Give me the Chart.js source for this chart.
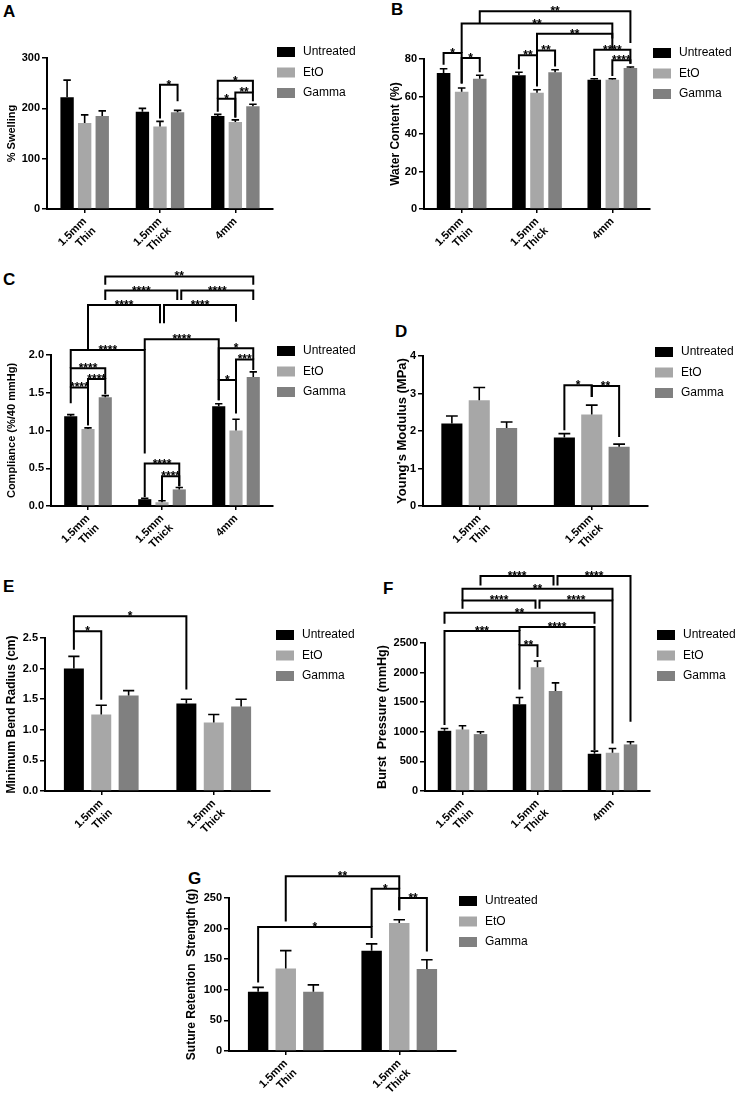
<!DOCTYPE html>
<html>
<head>
<meta charset="utf-8">
<script src="https://cdn.jsdelivr.net/npm/chart.js@4.4.0/dist/chart.umd.min.js"></script>
<style>
  body { margin: 0; background: #fff; width: 740px; height: 1099px; position: relative; overflow: hidden; }
  canvas { position: absolute; }
  .tag { position: absolute; font: bold 17px "Liberation Sans", Arial, sans-serif; line-height: 17px; color: #000; }
</style>
</head>
<body>
<div class="tag" style="left:3px;top:3px">A</div>
<div class="tag" style="left:391px;top:1px">B</div>
<div class="tag" style="left:3px;top:271px">C</div>
<div class="tag" style="left:395px;top:323px">D</div>
<div class="tag" style="left:3px;top:578px">E</div>
<div class="tag" style="left:383px;top:580px">F</div>
<div class="tag" style="left:188px;top:870px">G</div>
<canvas id="pA"></canvas>
<canvas id="pB"></canvas>
<canvas id="pC"></canvas>
<canvas id="pD"></canvas>
<canvas id="pE"></canvas>
<canvas id="pF"></canvas>
<canvas id="pG"></canvas>
<script>
const FONT = '"Liberation Sans", Arial, sans-serif';
const seriesNames = ['Untreated', 'EtO', 'Gamma'];
const seriesColors = ['#000000', '#a7a7a7', '#808080'];
const groups3 = [['1.5mm', 'Thin'], ['1.5mm', 'Thick'], '4mm'];
const groups2 = [['1.5mm', 'Thin'], ['1.5mm', 'Thick']];

// values: one row per series (Untreated, EtO, Gamma), one column per group
// brackets: [group1, series1, group2, series2, level, label, leg1 end, leg2 end]

// A - swelling
const swellMean = [[222, 193, 185], [171, 164, 173], [185, 192, 204]];
const swellSem = [[34, 7, 3], [16, 10, 4], [10, 4, 4]];
const swellSig = [
  [1, 1, 1, 2, 247, '*', 180, 214],
  [2, 0, 2, 1, 219, '*', 193, 182],
  [2, 1, 2, 2, 231.6, '**', 182, 214],
  [2, 0, 2, 2, 255, '*', 219, 231.6]
];

// B - water content
const waterMean = [[72.5, 71.4, 69], [62.5, 62, 69], [69.5, 73, 75.2]];
const waterSem = [[2.3, 1.5, 0.5], [2, 1.6, 0.5], [1.8, 1.3, 0.5]];
const waterSig = [
  [0, 0, 0, 1, 83.2, '*', 77, 67],
  [0, 1, 0, 2, 80.5, '*', 67, 73],
  [1, 0, 1, 1, 82, '**', 74.5, 65.5],
  [1, 1, 1, 2, 84.6, '**', 65.5, 76],
  [2, 0, 2, 2, 85, '****', 71, 77.5],
  [2, 1, 2, 2, 79.3, '****', 71, 77.5],
  [1, 1, 2, 1, 93.5, '**', 84.6, 91],
  [0, 1, 2, 1, 98.9, '**', 83.2, 85.5],
  [0, 2, 2, 2, 105.5, '**', 98.9, 88.5]
];

// C - compliance
const complMean = [[1.19, 0.09, 1.32], [1.02, 0.05, 1.0], [1.44, 0.22, 1.71]];
const complSem = [[0.02, 0.012, 0.035], [0.015, 0.02, 0.15], [0.022, 0.025, 0.066]];
const complSig = [
  [0, 0, 0, 1, 1.571, '****', 1.36, 1.07],
  [0, 1, 0, 2, 1.681, '****', 1.07, 1.48],
  [0, 0, 0, 2, 1.823, '****', 1.571, 1.681],
  [0, 0, 1, 0, 2.066, '****', 1.823, 0.695],
  [1, 0, 2, 0, 2.21, '****', 2.066, 1.40],
  [1, 0, 1, 2, 0.562, '****', 0.12, 0.26],
  [1, 1, 1, 2, 0.394, '****', 0.08, 0.26],
  [2, 0, 2, 1, 1.668, '*', 1.40, 1.226],
  [2, 1, 2, 2, 1.942, '***', 1.668, 1.80],
  [2, 0, 2, 2, 2.088, '*', 1.668, 1.942],
  [0, 1, 1, 1, 2.663, '****', 2.066, 2.42],
  [1, 1, 2, 1, 2.663, '****', 2.42, 2.44],
  [0, 2, 1, 2, 2.853, '****', 2.73, 2.73],
  [1, 2, 2, 2, 2.853, '****', 2.73, 2.73],
  [0, 2, 2, 2, 3.04, '**', 2.93, 2.93]
];

// D - Young's modulus
const modMean = [[2.2, 1.83], [2.82, 2.44], [2.08, 1.58]];
const modSem = [[0.2, 0.1], [0.34, 0.25], [0.16, 0.07]];
const modSig = [
  [1, 0, 1, 1, 3.22, '*', 2.02, 2.91],
  [1, 1, 1, 2, 3.2, '**', 2.91, 1.84]
];

// E - minimum bend radius
const bendMean = [[2.0, 1.43], [1.25, 1.12], [1.56, 1.38]];
const bendSem = [[0.2, 0.07], [0.15, 0.13], [0.08, 0.12]];
const bendSig = [
  [0, 0, 0, 1, 2.61, '*', 2.31, 1.49],
  [0, 0, 1, 0, 2.855, '*', 2.61, 1.66]
];

// F - burst pressure
const burstMean = [[1017, 1466, 629], [1039, 2090, 646], [961, 1691, 787]];
const burstSem = [[39, 113, 45], [62, 107, 73], [39, 135, 44]];
const burstSig = [
  [1, 0, 1, 1, 2462, '**', 1714, 2264],
  [0, 0, 1, 0, 2703, '***', 1113, 2462],
  [1, 0, 2, 0, 2770, '****', 2703, 691],
  [0, 0, 2, 0, 3013, '**', 2827, 2827],
  [0, 1, 1, 1, 3220, '****', 3080, 3080],
  [1, 1, 2, 1, 3220, '****', 3080, 804],
  [0, 1, 2, 1, 3417, '**', 3220, 3220],
  [0, 2, 1, 2, 3630, '****', 3473, 3473],
  [1, 2, 2, 2, 3630, '****', 3473, 1169]
];

// G - suture retention
const sutureMean = [[97, 164], [135, 209], [97, 134]];
const sutureSem = [[7, 11], [29, 5.5], [11, 15]];
const sutureSig = [
  [0, 0, 1, 0, 202.5, '*', 112, 184.5],
  [1, 0, 1, 1, 265.3, '*', 202.5, 230],
  [1, 1, 1, 2, 250, '**', 230, 162.7],
  [0, 1, 1, 1, 285.4, '**', 211.7, 265.3]
];

// layout: box = canvas [left, top, w, h], area = plot [left, top, right, bottom], page px
const panels = [
  { id: 'pA', labels: groups3, mean: swellMean, sem: swellSem, sig: swellSig,
    max: 300, step: 100, dec: 0, title: '% Swelling', tSize: 11, tX: 12,
    box: [0, 0, 370, 262], area: [47, 58, 273, 209], cat: 0.70, bar: 0.76, leg: [277, 52] },
  { id: 'pB', labels: groups3, mean: waterMean, sem: waterSem, sig: waterSig,
    max: 80, step: 20, dec: 0, title: 'Water Content (%)', tSize: 12, tX: 396,
    box: [370, 0, 370, 262], area: [424, 59, 650, 209], cat: 0.72, bar: 0.75, leg: [653, 53] },
  { id: 'pC', labels: groups3, mean: complMean, sem: complSem, sig: complSig,
    max: 2.0, step: 0.5, dec: 1, title: 'Compliance (%/40 mmHg)', tSize: 11, tX: 12,
    box: [0, 262, 370, 300], area: [51, 355, 273, 506], cat: 0.70, bar: 0.76, leg: [277, 351] },
  { id: 'pD', labels: groups2, mean: modMean, sem: modSem, sig: modSig,
    max: 4, step: 1, dec: 0, title: "Young's Modulus (MPa)", tSize: 13, tX: 402,
    box: [370, 300, 370, 260], area: [423, 356, 648, 506], cat: 0.73, bar: 0.77, leg: [655, 352] },
  { id: 'pE', labels: groups2, mean: bendMean, sem: bendSem, sig: bendSig,
    max: 2.5, step: 0.5, dec: 1, title: 'Minimum Bend Radius (cm)', tSize: 12, tX: 12,
    box: [0, 570, 370, 280], area: [45, 638, 270, 791], cat: 0.73, bar: 0.73, leg: [276, 635] },
  { id: 'pF', labels: groups3, mean: burstMean, sem: burstSem, sig: burstSig,
    max: 2500, step: 500, dec: 0, title: 'Burst  Pressure (mmHg)', tSize: 12.5, tX: 383,
    box: [370, 560, 370, 290], area: [425, 643, 650, 791], cat: 0.72, bar: 0.75, leg: [657, 635] },
  { id: 'pG', labels: groups2, mean: sutureMean, sem: sutureSem, sig: sutureSig,
    max: 250, step: 50, dec: 0, title: 'Suture Retention  Strength (g)', tSize: 12, tX: 192,
    box: [180, 860, 380, 239], area: [229, 898, 456, 1051], cat: 0.73, bar: 0.74, leg: [459, 901] }
];

function extrasFor(p) {
  return {
    id: 'extras_' + p.id,
    afterDraw(chart) {
      const ctx = chart.ctx;
      const ys = chart.scales.y;
      ctx.save();
      ctx.strokeStyle = '#000';
      ctx.fillStyle = '#000';

      // error bars (upper SEM)
      ctx.lineWidth = 1.6;
      p.sem.forEach((row, s) => {
        const meta = chart.getDatasetMeta(s);
        row.forEach((e, g) => {
          const bar = meta.data[g];
          const top = ys.getPixelForValue(p.mean[s][g] + e);
          const half = bar.width * 0.28;
          ctx.beginPath();
          ctx.moveTo(bar.x, bar.y);
          ctx.lineTo(bar.x, top);
          ctx.moveTo(bar.x - half, top);
          ctx.lineTo(bar.x + half, top);
          ctx.stroke();
        });
      });

      // significance brackets
      ctx.lineWidth = 2;
      ctx.lineJoin = 'miter';
      ctx.font = 'bold 12px ' + FONT;
      ctx.textAlign = 'center';
      ctx.textBaseline = 'alphabetic';
      const px = (g, s) => chart.getDatasetMeta(s).data[g].x;
      p.sig.forEach(b => {
        const [g1, s1, g2, s2, lvl, txt, low1, low2] = b;
        let x1 = px(g1, s1), x2 = px(g2, s2);
        // two brackets meeting on one bar at the same height keep a small gap
        if (p.sig.some(o => o !== b && o[4] === lvl && o[2] === g1 && o[3] === s1)) x1 += 2;
        if (p.sig.some(o => o !== b && o[4] === lvl && o[0] === g2 && o[1] === s2)) x2 -= 2;
        const y = ys.getPixelForValue(lvl);
        ctx.beginPath();
        ctx.moveTo(x1, ys.getPixelForValue(low1));
        ctx.lineTo(x1, y);
        ctx.lineTo(x2, y);
        ctx.lineTo(x2, ys.getPixelForValue(low2));
        ctx.stroke();
        ctx.fillText(txt, (x1 + x2) / 2, y + 4);
      });

      // legend
      const lx = p.leg[0] - p.box[0], ly = p.leg[1] - p.box[1];
      ctx.font = '12px ' + FONT;
      ctx.textAlign = 'left';
      ctx.textBaseline = 'middle';
      seriesNames.forEach((name, s) => {
        const cy = ly + s * 20.5;
        ctx.fillStyle = seriesColors[s];
        ctx.fillRect(lx, cy - 5, 18, 10);
        ctx.fillStyle = '#000';
        ctx.fillText(name, lx + 26, cy);
      });
      ctx.restore();
    }
  };
}

function drawPanel(p) {
  const [bl, bt, bw, bh] = p.box;
  const [al, at, ar, ab] = p.area;
  const canvas = document.getElementById(p.id);
  canvas.width = bw;
  canvas.height = bh;
  canvas.style.left = bl + 'px';
  canvas.style.top = bt + 'px';

  new Chart(canvas, {
    type: 'bar',
    data: {
      labels: p.labels,
      datasets: seriesNames.map((name, s) => ({
        label: name,
        data: p.mean[s],
        backgroundColor: seriesColors[s],
        borderWidth: 0,
        categoryPercentage: p.cat,
        barPercentage: p.bar
      }))
    },
    options: {
      responsive: false,
      animation: false,
      devicePixelRatio: 1,
      layout: { padding: { left: 0, top: at - bt, right: bl + bw - ar, bottom: 0 } },
      plugins: { legend: { display: false }, tooltip: { enabled: false } },
      scales: {
        x: {
          grid: { display: true, drawOnChartArea: false, offset: false, tickLength: 4, color: '#000', lineWidth: 1.5 },
          border: { color: '#000', width: 2 },
          ticks: { color: '#000', font: { family: FONT, weight: 'bold', size: 11 }, minRotation: 45, maxRotation: 45, padding: 2, autoSkip: false },
          afterFit: scale => { scale.height = bt + bh - ab; }
        },
        y: {
          min: 0,
          max: p.max,
          ticks: { stepSize: p.step, color: '#000', font: { family: FONT, weight: 'bold', size: 11 }, padding: 2,
                   callback: v => Number(v).toFixed(p.dec) },
          grid: { drawOnChartArea: false, tickLength: 5, color: '#000', lineWidth: 1.5 },
          border: { color: '#000', width: 2 },
          title: { display: true, text: p.title, color: '#000',
                   font: { family: FONT, weight: 'bold', size: p.tSize },
                   padding: { top: p.tX - bl - p.tSize * 0.6, bottom: 0 } },
          afterFit: scale => { scale.width = al - bl; }
        }
      }
    },
    plugins: [extrasFor(p)]
  });
}

panels.forEach(drawPanel);
</script>
</body>
</html>
